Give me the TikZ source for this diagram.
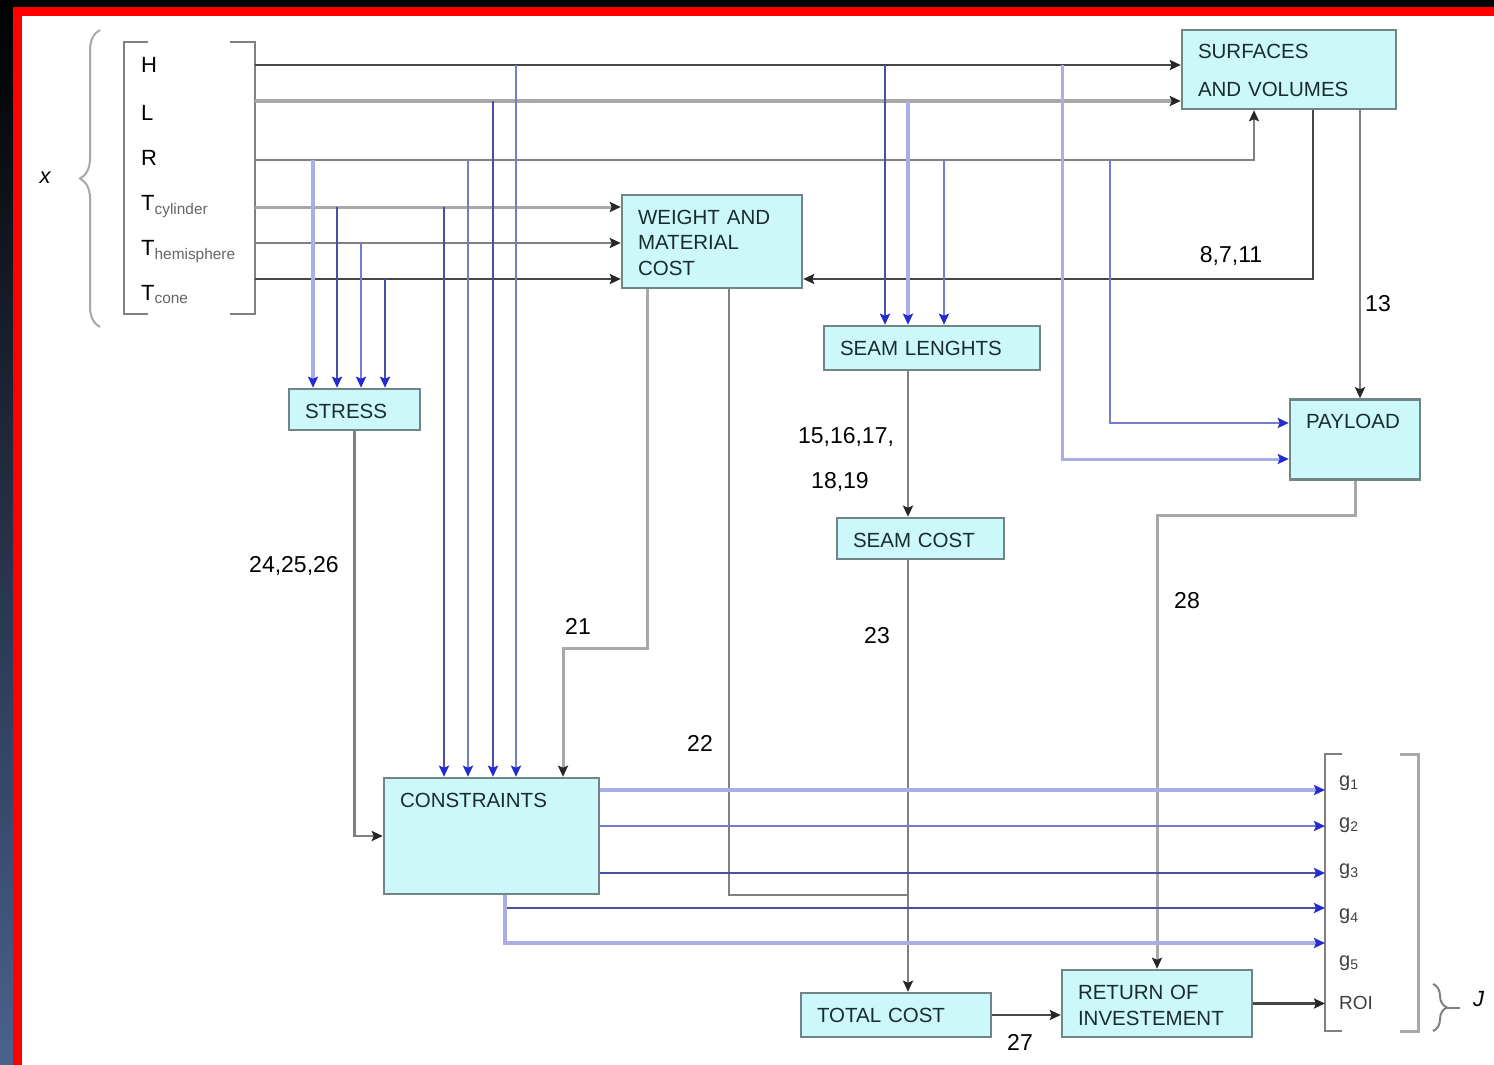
\documentclass[tikz,border=0pt]{standalone}
\usepackage{fontspec}
\setmainfont{Liberation Sans}
\usetikzlibrary{arrows.meta,positioning,decorations.pathreplacing}

\definecolor{boxfill}{RGB}{204,248,250}
\definecolor{boxline}{RGB}{112,134,134}
\definecolor{boxtext}{RGB}{25,45,45}
\definecolor{greydark}{RGB}{70,70,70}
\definecolor{greymid}{RGB}{128,128,128}
\definecolor{greylight}{RGB}{168,168,168}
\definecolor{bluedeep}{RGB}{72,80,164}
\definecolor{bluemedium}{RGB}{116,124,204}
\definecolor{bluepale}{RGB}{170,174,230}
\definecolor{tipblue}{RGB}{36,44,208}
\definecolor{slate}{RGB}{74,98,142}

\begin{document}
\begin{tikzpicture}[x=1pt, y=-1pt,
    box/.style={rectangle, draw=boxline, fill=boxfill, line width=2.5pt,
        inner xsep=16pt, inner ysep=0pt, text height=29pt, align=left,
        text=boxtext, font=\fontsize{20.5}{25.5}\selectfont},
    num/.style={inner sep=0pt, font=\fontsize{23}{23}\selectfont},
    var/.style={inner sep=0pt, anchor=base west, font=\fontsize{22}{22}\selectfont},
    outlabel/.style={inner sep=0pt, anchor=west, text=black!75,
        font=\fontsize{20}{20}\selectfont},
    tip/.style={-{Stealth[length=11pt 0 0, width=10pt 0 0, inset=2pt, color=black!85]}},
    bluetip/.style={-{Stealth[length=11pt 0 0, width=10pt 0 0, inset=2pt, color=tipblue]}},
    darkline/.style={draw=greydark, line width=2.5pt},
    midline/.style={draw=greymid, line width=2.5pt},
    lightline/.style={draw=greylight, line width=3.5pt},
    bluedark/.style={draw=bluedeep, line width=2.5pt},
    bluemid/.style={draw=bluemedium, line width=2.5pt},
    bluelight/.style={draw=bluepale, line width=3.5pt}
]
\fill[black] (0,0) rectangle (1494,1065);
\shade[top color=black, bottom color=slate] (0,0) rectangle (13,1065);
\fill[red] (13,7) rectangle (1494,1065);
\fill[white] (22,16) rectangle (1494,1065);
\useasboundingbox (0,0) rectangle (1494,1065);

% design variables
\draw[lightline, line width=2pt, decorate, decoration={brace, amplitude=20pt}]
    (100,327) -- (100,30);
\node (VarX) [font=\fontsize{22}{22}\selectfont\itshape] at (45,178) {x};
\draw[midline] (148,42) -- (124,42) -- (124,314) -- (148,314);
\draw[midline] (230,42) -- (255,42) -- (255,314) -- (230,314);
\node (VarH) [var] at (141,73) {H};
\node (VarL) [var] at (141,120) {L};
\node (VarR) [var] at (141,165) {R};
\node (VarTcyl) [var] at (141,210) {T\textsubscript{\color{black!60}cylinder}};
\node (VarThem) [var] at (141,255) {T\textsubscript{\color{black!60}hemisphere}};
\node (VarTcone) [var] at (141,300) {T\textsubscript{\color{black!60}cone}};
\coordinate (InH) at (255,65);
\coordinate (InL) at (255,101);
\coordinate (InR) at (255,160);
\coordinate (InTcyl) at (255,207);
\coordinate (InThem) at (255,243);
\coordinate (InTcone) at (255,279);

% blocks
\node (Surfaces) [box, text width=182pt, text depth=50pt,
    font=\fontsize{20.5}{38}\selectfont] at (1289,69.5) {SURFACES\\AND VOLUMES};
\node (Weight) [box, text width=148pt, text depth=64pt] at (712,241.5)
    {WEIGHT AND\\MATERIAL\\COST};
\node (SeamLength) [box, text width=184pt, text depth=15pt] at (932,348) {SEAM LENGHTS};
\node (Stress) [box, text width=99pt, text depth=12pt] at (354.5,409.5) {STRESS};
\node (Payload) [box, text width=98pt, text depth=51pt] at (1355,439.5) {PAYLOAD};
\node (SeamCost) [box, text width=135pt, text depth=12pt] at (920.5,538.5) {SEAM COST};
\node (Constraints) [box, text width=183pt, text depth=87pt] at (491.5,836) {CONSTRAINTS};
\node (TotalCost) [box, text width=158pt, text depth=15pt] at (896,1015) {TOTAL COST};
\node (Return) [box, text width=158pt, text depth=38pt,
    font=\fontsize{20.5}{26}\selectfont] at (1157,1003.5) {RETURN OF\\INVESTEMENT};

% outputs
\draw[midline] (1342,754) -- (1325,754) -- (1325,1031) -- (1342,1031);
\draw[lightline, line width=3pt] (1400,754) -- (1418,754) -- (1418,1031) -- (1400,1031);
\node (G1) [outlabel] at (1339,783) {g\textsubscript{1}};
\node (G2) [outlabel] at (1339,825) {g\textsubscript{2}};
\node (G3) [outlabel] at (1339,871) {g\textsubscript{3}};
\node (G4) [outlabel] at (1339,916) {g\textsubscript{4}};
\node (G5) [outlabel] at (1339,963) {g\textsubscript{5}};
\node (Roi) [outlabel, font=\fontsize{19}{19}\selectfont] at (1339,1003) {ROI};
\coordinate (OutG1) at (1325,790);
\coordinate (OutG2) at (1325,826);
\coordinate (OutG3) at (1325,873);
\coordinate (OutG4) at (1325,908);
\coordinate (OutG5) at (1325,943);
\coordinate (OutRoi) at (1325,1006);
\draw[midline, line width=2pt, decorate, decoration={brace, amplitude=14pt}]
    (1433,984) -- (1433,1031);
\coordinate (BraceTip) at (1447,1007.5);
\node (J) [font=\fontsize{22}{22}\selectfont\itshape, anchor=west, inner sep=0pt]
    at (1473,999) {J};
\draw[midline, line width=2pt] (BraceTip) -- ++(13,0);

% inputs
\draw[darkline, tip] (InH) -- (InH -| Surfaces.west);
\draw[lightline, tip] (InL) -- (InL -| Surfaces.west);
\draw[midline, line width=2pt, tip] (InR) -| ([xshift=-35pt]Surfaces.south);
\draw[lightline, line width=3pt, tip] (InTcyl) -- (InTcyl -| Weight.west);
\draw[midline, tip] (InThem) -- (InThem -| Weight.west);
\draw[darkline, tip] (InTcone) -- (InTcone -| Weight.west);

% analysis links
\draw[darkline, tip] ([xshift=24pt]Surfaces.south) |- (InTcone -| Weight.east);
\node (Num8711) [num] at (1231,256) {8,7,11};
\draw[midline, tip] (Surfaces.south -| 1360,0) -- (Payload.north -| 1360,0);
\node (Num13) [num] at (1378,304) {13};
\coordinate (Bend21) at (563,648);
\draw[lightline, line width=3pt, tip] ([xshift=-65pt]Weight.south) |- (Bend21)
    -- (Bend21 |- Constraints.north);
\node (Num21) [num] at (578,626) {21};
\coordinate (Join22) at (908,895);
\draw[midline] ([xshift=17pt]Weight.south) |- (Join22);
\node (Num22) [num] at (700,743) {22};
\draw[midline, tip] (SeamLength.south -| Join22) -- (SeamCost.north -| Join22);
\node (Num1517) [num] at (846,437) {15,16,17,};
\node (Num1819) [num] at (840,482) {18,19};
\draw[midline, tip] (SeamCost.south -| Join22) -- (TotalCost.north -| Join22);
\node (Num23) [num] at (877,636) {23};
\draw[midline, tip] (Stress.south) |- (Constraints.west);
\node (Num2426) [num] at (294,566) {24,25,26};
\draw[lightline, line width=3pt, tip] (Payload.south) -- ++(0,35) -| (Return.north);
\node (Num28) [num] at (1187,601) {28};
\draw[darkline, tip] (TotalCost.east) -- (TotalCost.east -| Return.west);
\node (Num27) [num] at (1020,1042) {27};
\draw[darkline, tip] (Return.east) -- (Return.east -| OutRoi);

% variable feeds
\foreach \x/\from/\sty in {313/InR/bluelight, 337/InTcyl/bluedark,
    361/InThem/bluemid, 385/InTcone/bluedark}
  \draw[\sty, bluetip] (\x,0 |- \from) -- (\x,0 |- Stress.north);
\foreach \x/\from/\sty in {444/InTcyl/bluedark, 468/InR/bluemid,
    493/InL/bluedark, 516/InH/bluemid}
  \draw[\sty, bluetip] (\x,0 |- \from) -- (\x,0 |- Constraints.north);
\foreach \x/\from/\sty in {885/InH/bluedark, 908/InL/bluelight, 944/InR/bluemid}
  \draw[\sty, bluetip] (\x,0 |- \from) -- (\x,0 |- SeamLength.north);
\draw[bluelight, line width=3pt, bluetip] (1062,0 |- InH) |- ([yshift=-19.5pt]Payload.west);
\draw[bluemid, bluetip] (1110,0 |- InR) |- ([yshift=16.5pt]Payload.west);

% constraint outputs
\draw[bluelight, bluetip] (OutG1 -| Constraints.east) -- (OutG1);
\draw[bluemid, bluetip] (OutG2 -| Constraints.east) -- (OutG2);
\draw[bluedark, bluetip] (OutG3 -| Constraints.east) -- (OutG3);
\draw[bluedark, bluetip] ([xshift=13.5pt]Constraints.south) |- (OutG4);
\draw[bluelight, bluetip] ([xshift=13.5pt]Constraints.south) |- (OutG5);
\end{tikzpicture}
\end{document}
